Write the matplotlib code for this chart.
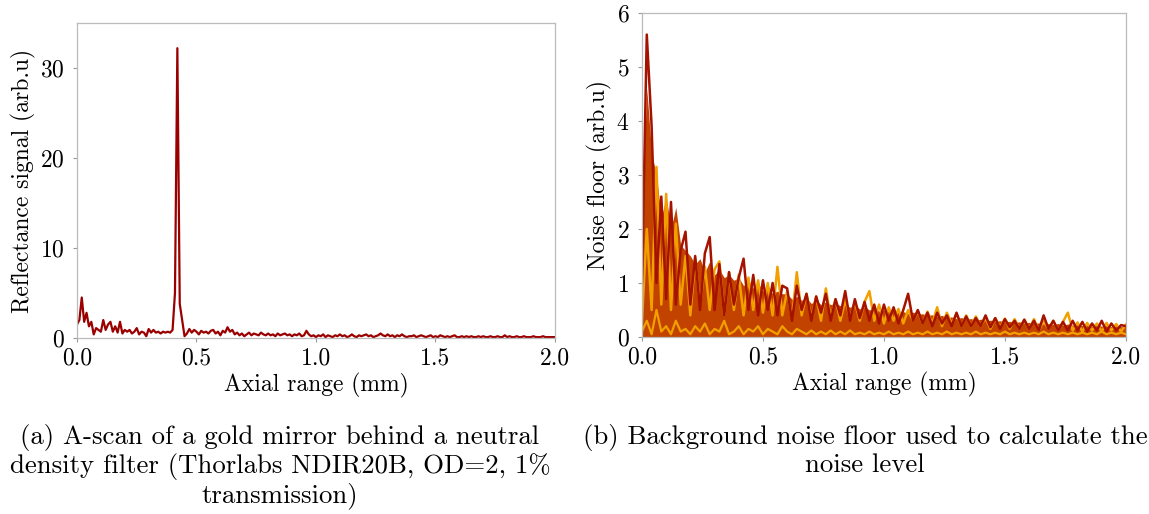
import matplotlib
matplotlib.use("Agg")
import matplotlib.pyplot as plt
from matplotlib.ticker import FormatStrFormatter
import numpy as np

plt.rcParams["font.family"] = ["cmr10", "DejaVu Serif"]
plt.rcParams["axes.formatter.use_mathtext"] = True

# ------------------------------------------------------------
# data (a): A-scan of gold mirror, axial range 0..2 mm, step 0.01 mm
# ------------------------------------------------------------
ascan_x = np.round(np.arange(0, 2.001, 0.01), 3)
ascan_y = [
    1.5, 2.0, 4.5, 1.8, 2.8, 1.3, 1.8, 0.4, 1.1, 0.9,
    0.7, 2.0, 0.9, 1.5, 1.8, 0.7, 1.3, 0.6, 1.8, 0.5,
    0.9, 0.7, 0.9, 0.5, 0.7, 1.1, 0.4, 0.7, 0.6, 0.2,
    1.0, 0.6, 0.9, 0.6, 0.7, 0.5, 0.7, 0.6, 0.7, 0.6,
    0.9, 5.0, 32.2, 3.8, 2.0, 0.2, 0.5, 1.0, 0.6, 0.9,
    0.7, 0.4, 0.8, 0.6, 0.7, 0.5, 0.8, 0.9, 0.5, 0.7,
    0.3, 0.8, 0.6, 1.2, 0.7, 0.9, 0.4, 0.6, 0.3, 0.5,
    0.2, 0.4, 0.6, 0.3, 0.5, 0.4, 0.3, 0.6, 0.4, 0.3,
    0.5, 0.3, 0.4, 0.2, 0.5, 0.3, 0.4, 0.5, 0.3, 0.4,
    0.2, 0.4, 0.3, 0.5, 0.2, 0.3, 0.8, 0.4, 0.2, 0.3,
    0.1, 0.3, 0.2, 0.4, 0.1, 0.3, 0.2, 0.1, 0.3, 0.2,
    0.4, 0.2, 0.3, 0.1, 0.2, 0.4, 0.2, 0.1, 0.3, 0.2,
    0.3, 0.4, 0.2, 0.3, 0.1, 0.2, 0.3, 0.5, 0.3, 0.2,
    0.4, 0.2, 0.3, 0.1, 0.3, 0.2, 0.4, 0.2, 0.1, 0.2,
    0.2, 0.3, 0.1, 0.2, 0.3, 0.2, 0.1, 0.2, 0.3, 0.1,
    0.2, 0.1, 0.3, 0.2, 0.1, 0.2, 0.1, 0.2, 0.3, 0.1,
    0.1, 0.2, 0.1, 0.2, 0.1, 0.2, 0.1, 0.1, 0.2, 0.1,
    0.2, 0.1, 0.1, 0.2, 0.1, 0.1, 0.2, 0.1, 0.1, 0.3,
    0.1, 0.2, 0.1, 0.1, 0.2, 0.1, 0.1, 0.2, 0.1, 0.1,
    0.1, 0.2, 0.1, 0.1, 0.1, 0.2, 0.1, 0.1, 0.1, 0.1,
    0.1,
]

# ------------------------------------------------------------
# data (b): background noise floor, step 0.02 mm
# ------------------------------------------------------------
noise_x = np.round(np.arange(0, 2.001, 0.02), 3)

noise_body = [
    2.3, 4.6, 3.4, 3.0, 2.2, 2.6, 2.0, 2.4, 1.7, 1.6,
    1.5, 1.35, 1.45, 1.2, 1.4, 1.15, 1.25, 1.1, 1.15, 1.05,
    1.1, 0.95, 1.05, 0.9, 1.0, 0.85, 0.95, 0.8, 0.85, 0.8,
    0.8, 0.7, 0.75, 0.68, 0.72, 0.62, 0.68, 0.6, 0.65, 0.6,
    0.62, 0.58, 0.6, 0.55, 0.58, 0.52, 0.56, 0.5, 0.53, 0.48,
    0.5, 0.47, 0.49, 0.45, 0.47, 0.43, 0.46, 0.42, 0.43, 0.4,
    0.41, 0.38, 0.4, 0.36, 0.37, 0.34, 0.36, 0.33, 0.34, 0.31,
    0.33, 0.3, 0.31, 0.29, 0.3, 0.28, 0.29, 0.27, 0.28, 0.26,
    0.27, 0.25, 0.26, 0.24, 0.25, 0.23, 0.25, 0.22, 0.24, 0.22,
    0.23, 0.21, 0.22, 0.2, 0.22, 0.2, 0.21, 0.19, 0.21, 0.19,
    0.2,
]

noise_orange = [
    0.3, 2.0, 0.5, 3.15, 0.6, 2.65, 0.5, 2.1, 0.6, 1.5,
    0.4, 1.45, 0.6, 1.3, 0.5, 1.25, 1.4, 0.4, 1.2, 0.5,
    1.15, 0.4, 1.1, 0.5, 1.05, 0.45, 1.0, 0.4, 1.3, 0.4,
    0.85, 0.35, 1.2, 0.4, 0.8, 0.35, 0.75, 0.3, 0.9, 0.35,
    0.7, 0.3, 0.68, 0.35, 0.65, 0.3, 0.65, 0.85, 0.3, 0.6,
    0.25, 0.55, 0.3, 0.52, 0.25, 0.5, 0.3, 0.48, 0.25, 0.47,
    0.25, 0.55, 0.2, 0.45, 0.25, 0.42, 0.2, 0.4, 0.2, 0.38,
    0.2, 0.36, 0.15, 0.35, 0.18, 0.34, 0.15, 0.33, 0.15, 0.32,
    0.15, 0.33, 0.12, 0.3, 0.15, 0.3, 0.12, 0.28, 0.45, 0.12,
    0.27, 0.1, 0.26, 0.12, 0.25, 0.1, 0.26, 0.12, 0.24, 0.1,
    0.23,
]

noise_red = [
    1.0, 5.6, 3.9, 1.0, 2.6, 0.7, 2.5, 0.6, 1.6, 1.95,
    0.6, 1.5, 0.5, 1.55, 1.85, 0.5, 1.35, 0.4, 1.2, 0.6,
    1.1, 1.45, 0.5, 1.15, 0.4, 1.05, 0.5, 1.0, 0.4, 0.95,
    0.9, 0.3, 0.95, 0.5, 0.8, 0.3, 0.75, 0.45, 0.8, 0.3,
    0.7, 0.4, 0.85, 0.3, 0.7, 0.35, 0.65, 0.3, 0.6, 0.25,
    0.6, 0.3, 0.55, 0.25, 0.5, 0.8, 0.3, 0.5, 0.25, 0.45,
    0.2, 0.45, 0.25, 0.4, 0.2, 0.45, 0.2, 0.38, 0.2, 0.35,
    0.2, 0.4, 0.18, 0.35, 0.15, 0.33, 0.18, 0.3, 0.15, 0.32,
    0.15, 0.3, 0.12, 0.4, 0.15, 0.3, 0.12, 0.28, 0.12, 0.3,
    0.12, 0.28, 0.1, 0.25, 0.12, 0.3, 0.1, 0.25, 0.12, 0.22,
    0.2,
]

noise_low = [
    0.1, 0.3, 0.05, 0.5, 0.1, 0.2, 0.05, 0.3, 0.1, 0.15,
    0.05, 0.2, 0.1, 0.25, 0.05, 0.15, 0.1, 0.3, 0.05, 0.1,
    0.2, 0.05, 0.15, 0.1, 0.2, 0.05, 0.15, 0.1, 0.05, 0.2,
    0.1, 0.05, 0.15, 0.1, 0.05, 0.12, 0.05, 0.1, 0.05, 0.12,
    0.05, 0.1, 0.05, 0.12, 0.05, 0.08, 0.05, 0.1, 0.05, 0.08,
    0.05, 0.1, 0.05, 0.08, 0.05, 0.1, 0.05, 0.08, 0.05, 0.1,
    0.05, 0.08, 0.05, 0.1, 0.05, 0.08, 0.05, 0.08, 0.05, 0.1,
    0.05, 0.08, 0.05, 0.08, 0.05, 0.1, 0.05, 0.08, 0.05, 0.08,
    0.05, 0.08, 0.05, 0.1, 0.05, 0.08, 0.05, 0.08, 0.05, 0.08,
    0.05, 0.08, 0.05, 0.08, 0.05, 0.1, 0.05, 0.08, 0.05, 0.08,
    0.05,
]

caption_a = "(a) A-scan of a gold mirror behind a neutral\ndensity filter (Thorlabs NDIR20B, OD=2, 1%\ntransmission)"
caption_b = "(b) Background noise floor used to calculate the\nnoise level"

fig = plt.figure(figsize=(11.49, 5.14), dpi=100)

ax1 = fig.add_axes([0.067, 0.3424, 0.416, 0.6129])
ax2 = fig.add_axes([0.5587, 0.3444, 0.4212, 0.6304])

# (a)
ax1.plot(ascan_x, ascan_y, color="#9b0000", linewidth=1.6)
ax1.set_xlim(0, 2)
ax1.set_ylim(0, 35)
ax1.set_yticks([0, 10, 20, 30])
ax1.set_ylabel("Reflectance signal (arb.u)", fontsize=17, labelpad=3)

# (b)
ax2.fill_between(noise_x, 0, noise_body, color="#c24200", linewidth=0)
ax2.plot(noise_x, noise_orange, color="#f29f00", linewidth=1.8)
ax2.plot(noise_x, noise_red, color="#a51200", linewidth=1.8)
ax2.plot(noise_x, noise_low, color="#f0a000", linewidth=1.6)
ax2.set_xlim(0, 2)
ax2.set_ylim(0, 6)
ax2.set_yticks([0, 1, 2, 3, 4, 5, 6])
ax2.set_ylabel("Noise floor (arb.u)", fontsize=17, labelpad=3)

for ax in (ax1, ax2):
    ax.set_xticks([0, 0.5, 1.0, 1.5, 2.0])
    ax.xaxis.set_major_formatter(FormatStrFormatter("%.1f"))
    ax.set_xlabel("Axial range (mm)", fontsize=17, labelpad=2)
    ax.tick_params(axis="x", labelsize=17, length=3, width=0.8,
                   color="#999999", pad=4)
    ax.tick_params(axis="y", labelsize=17, length=3, width=0.8,
                   color="#999999", pad=6)
    for s in ax.spines.values():
        s.set_color("#bbbbbb")
        s.set_linewidth(0.9)

fig.text(0.2437, 0.176, caption_a, ha="center", va="top", fontsize=19.3,
         linespacing=1.12)
fig.text(0.7528, 0.176, caption_b, ha="center", va="top", fontsize=19.3,
         linespacing=1.12)

fig.savefig("out.png", dpi=100)
plt.close(fig)
